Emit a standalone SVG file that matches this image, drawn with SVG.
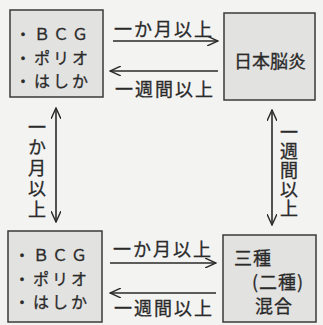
<svg xmlns="http://www.w3.org/2000/svg" width="323" height="325" viewBox="0 0 323 325">
<defs>
<style>
.box{fill:#e2e2e0;stroke:#3a3a3a;stroke-width:1.5}
.t{font-family:"Noto Sans CJK JP","Noto Sans CJK SC",sans-serif;font-size:18px;fill:#2a2a2a;dominant-baseline:central;stroke:#2a2a2a;stroke-width:0.3}
.s{font-size:16px;letter-spacing:3px}
.c{text-anchor:middle}
.lb{letter-spacing:2px}
.v{writing-mode:vertical-rl}
.ln{stroke:#2a2a2a;stroke-width:1.6;fill:none}
</style>
<marker id="ah" viewBox="0 0 12 10" refX="11" refY="5" markerWidth="12" markerHeight="10" markerUnits="userSpaceOnUse" orient="auto-start-reverse">
<path d="M0,0 L11,5 L0,10" fill="none" stroke="#2a2a2a" stroke-width="1.4"/>
</marker>
</defs>
<rect width="323" height="325" fill="#f3f3f1"/>
<g id="n1">
<rect class="box" x="10" y="10" width="93" height="87"/>
<text class="t s"><tspan x="15" y="33">・ＢＣＧ</tspan><tspan x="15" y="56.5">・ポリオ</tspan><tspan x="15" y="80">・はしか</tspan></text>
</g>
<g id="n2">
<rect class="box" x="224" y="13" width="91" height="87"/>
<text class="t c" x="270" y="60">日本脳炎</text>
</g>
<g id="n3">
<rect class="box" x="8" y="231" width="94" height="91"/>
<text class="t s"><tspan x="14" y="254">・ＢＣＧ</tspan><tspan x="14" y="277.5">・ポリオ</tspan><tspan x="14" y="301">・はしか</tspan></text>
</g>
<g id="n4">
<rect class="box" x="223" y="235" width="93" height="87"/>
<text class="t" font-size="16" letter-spacing="1"><tspan x="234" y="257">三種</tspan><tspan x="252" y="281">(二種)</tspan><tspan x="255" y="305">混合</tspan></text>
</g>
<g id="connectors">
<line class="ln" x1="113" y1="41" x2="218" y2="41" marker-end="url(#ah)"/>
<line class="ln" x1="218" y1="71" x2="110" y2="71" marker-end="url(#ah)"/>
<line class="ln" x1="56" y1="108" x2="56" y2="222" marker-start="url(#ah)" marker-end="url(#ah)"/>
<line class="ln" x1="272" y1="110" x2="272" y2="225" marker-start="url(#ah)" marker-end="url(#ah)"/>
<line class="ln" x1="110" y1="263" x2="216" y2="263" marker-end="url(#ah)"/>
<line class="ln" x1="216" y1="293" x2="110" y2="293" marker-end="url(#ah)"/>
<text class="t c lb" x="164" y="28">一か月以上</text>
<text class="t c lb" x="165" y="88">一週間以上</text>
<text class="t c lb" x="163" y="248">一か月以上</text>
<text class="t c lb" x="164" y="307">一週間以上</text>
<text class="t v" x="37" y="118" letter-spacing="2.5">一か月以上</text>
<text class="t v" x="289" y="123" letter-spacing="1">一週間以上</text>
</g>
</svg>
